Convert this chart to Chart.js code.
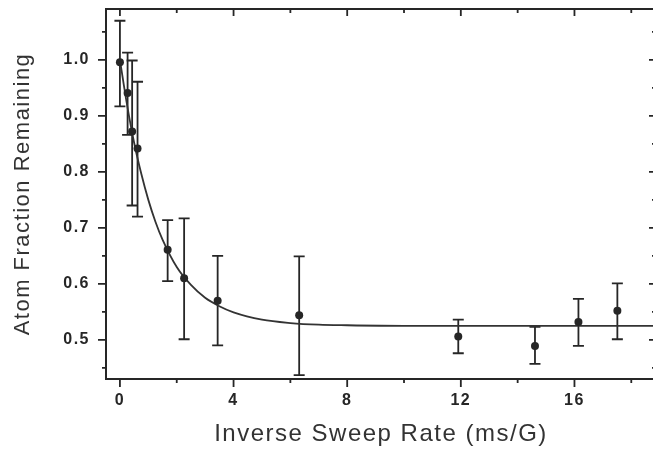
<!DOCTYPE html>
<html>
<head>
<meta charset="utf-8">
<script src="https://cdn.jsdelivr.net/npm/chart.js@4/dist/chart.umd.min.js"></script>
<style>
  html, body { margin: 0; padding: 0; background: #fff; overflow: hidden; width: 653px; height: 449px; }
  #wrap { position: absolute; left: 0; top: 0; width: 666px; height: 449px; }
</style>
</head>
<body>
<div id="wrap"><canvas id="sweepChart"></canvas></div>
<script>
// measured points (inverse sweep rate in ms/G, fraction remaining)
const sweepRate = [0, 0.27, 0.43, 0.62, 1.68, 2.26, 3.44, 6.31, 11.91, 14.61, 16.14, 17.51];
const fraction  = [0.996, 0.941, 0.872, 0.842, 0.661, 0.610, 0.570, 0.544, 0.506, 0.489, 0.532, 0.552];
const errTop    = [1.070, 1.013, 0.999, 0.961, 0.714, 0.717, 0.650, 0.649, 0.536, 0.523, 0.573, 0.601];
const errBottom = [0.917, 0.866, 0.740, 0.720, 0.605, 0.501, 0.490, 0.437, 0.476, 0.457, 0.489, 0.501];

// fitted decay curve
const fitRate     = [0, 0.25, 0.5, 0.75, 1, 1.25, 1.5, 2, 2.5, 3, 3.5, 4, 5, 6, 7, 8, 10, 13, 16, 19];
const fitFraction = [1.000, 0.920, 0.852, 0.797, 0.750, 0.711, 0.679, 0.630, 0.598, 0.575, 0.560, 0.549, 0.536, 0.530, 0.527, 0.526, 0.525, 0.525, 0.525, 0.525];

const xLabels = [0, 4, 8, 12, 16];
const yLabels = [0.5, 0.6, 0.7, 0.8, 0.9, 1.0];

const ink = "#262626";

function isLabelled(list, v) {
  return list.some(t => Math.abs(t - v) < 1e-6);
}

// Origin-style frame: box, outward ticks bottom/left, inward ticks top/right
const framePlugin = {
  id: "frame",
  beforeDraw(chart) {
    chart.ctx.letterSpacing = "1.5px";
  },
  beforeDatasetsDraw(chart) {
    const { ctx, chartArea: a, scales } = chart;
    const x = scales.x, y = scales.y;
    ctx.save();
    ctx.beginPath();
    ctx.rect(a.left, a.top, a.right - a.left, a.bottom - a.top);
    ctx.clip();
    ctx.strokeStyle = ink;
    ctx.lineWidth = 1.8;
    const cap = 5.5;
    sweepRate.forEach((r, i) => {
      const px = x.getPixelForValue(r);
      const hi = y.getPixelForValue(errTop[i]);
      const lo = y.getPixelForValue(errBottom[i]);
      ctx.beginPath();
      ctx.moveTo(px, hi); ctx.lineTo(px, lo);
      ctx.moveTo(px - cap, hi); ctx.lineTo(px + cap, hi);
      ctx.moveTo(px - cap, lo); ctx.lineTo(px + cap, lo);
      ctx.stroke();
    });
    ctx.restore();
  },
  afterDraw(chart) {
    const { ctx, chartArea: a, scales } = chart;
    ctx.save();
    ctx.strokeStyle = ink;
    ctx.lineWidth = 2;
    ctx.strokeRect(a.left, a.top, a.right - a.left, a.bottom - a.top);
    ctx.lineWidth = 1.8;
    ctx.beginPath();
    scales.x.ticks.forEach(t => {
      const px = scales.x.getPixelForValue(t.value);
      const major = isLabelled(xLabels, t.value);
      ctx.moveTo(px, a.bottom); ctx.lineTo(px, a.bottom + (major ? 8 : 4));
      ctx.moveTo(px, a.top); ctx.lineTo(px, a.top + (major ? 7 : 4));
    });
    scales.y.ticks.forEach(t => {
      const py = scales.y.getPixelForValue(t.value);
      const major = isLabelled(yLabels, t.value);
      ctx.moveTo(a.left, py); ctx.lineTo(a.left - (major ? 8 : 4), py);
      ctx.moveTo(a.right, py); ctx.lineTo(a.right - (major ? 7 : 4), py);
    });
    ctx.stroke();
    ctx.restore();
  }
};

const ctx = document.getElementById("sweepChart");

new Chart(ctx, {
  type: "scatter",
  data: {
    datasets: [
      {
        label: "Fit",
        type: "line",
        data: fitRate.map((r, i) => ({ x: r, y: fitFraction[i] })),
        borderColor: "#333",
        borderWidth: 1.8,
        pointRadius: 0,
        fill: false,
        cubicInterpolationMode: "monotone",
        order: 2
      },
      {
        label: "Data",
        data: sweepRate.map((r, i) => ({ x: r, y: fraction[i] })),
        backgroundColor: ink,
        borderColor: ink,
        pointRadius: 4,
        pointBorderWidth: 0,
        order: 1
      }
    ]
  },
  options: {
    responsive: true,
    maintainAspectRatio: false,
    animation: false,
    layout: { padding: { top: 9, right: 10, left: 0, bottom: 0 } },
    plugins: {
      legend: { display: false },
      tooltip: { enabled: false }
    },
    scales: {
      x: {
        type: "linear",
        min: -0.49,
        max: 18.87,
        border: { display: false },
        grid: { display: false, drawTicks: false },
        afterFit(scale) {
          scale.height = 70;
          scale.paddingLeft = 0;
          scale.paddingRight = 0;
        },
        ticks: {
          stepSize: 2,
          includeBounds: false,
          autoSkip: false,
          maxRotation: 0,
          padding: 12,
          color: ink,
          font: { family: "'Liberation Sans', Arial, sans-serif", size: 16, weight: "bold" },
          callback: v => isLabelled(xLabels, v) ? String(v) : ""
        },
        title: {
          display: true,
          text: "Inverse Sweep Rate (ms/G)",
          color: "#333",
          padding: { top: 0, bottom: 0 },
          font: { family: "'Liberation Sans', Arial, sans-serif", size: 24, weight: "normal" }
        }
      },
      y: {
        type: "linear",
        min: 0.43,
        max: 1.091,
        border: { display: false },
        grid: { display: false, drawTicks: false },
        afterFit(scale) {
          scale.width = 106;
          scale.paddingTop = 0;
          scale.paddingBottom = 0;
        },
        ticks: {
          stepSize: 0.05,
          includeBounds: false,
          autoSkip: false,
          padding: 16,
          color: ink,
          font: { family: "'Liberation Sans', Arial, sans-serif", size: 16, weight: "bold" },
          callback: v => isLabelled(yLabels, v) ? v.toFixed(1) : ""
        },
        title: {
          display: true,
          text: "Atom Fraction Remaining",
          color: "#333",
          padding: { top: 10, bottom: 0 },
          font: { family: "'Liberation Sans', Arial, sans-serif", size: 22, weight: "normal" }
        }
      }
    }
  },
  plugins: [framePlugin]
});
</script>
</body>
</html>
